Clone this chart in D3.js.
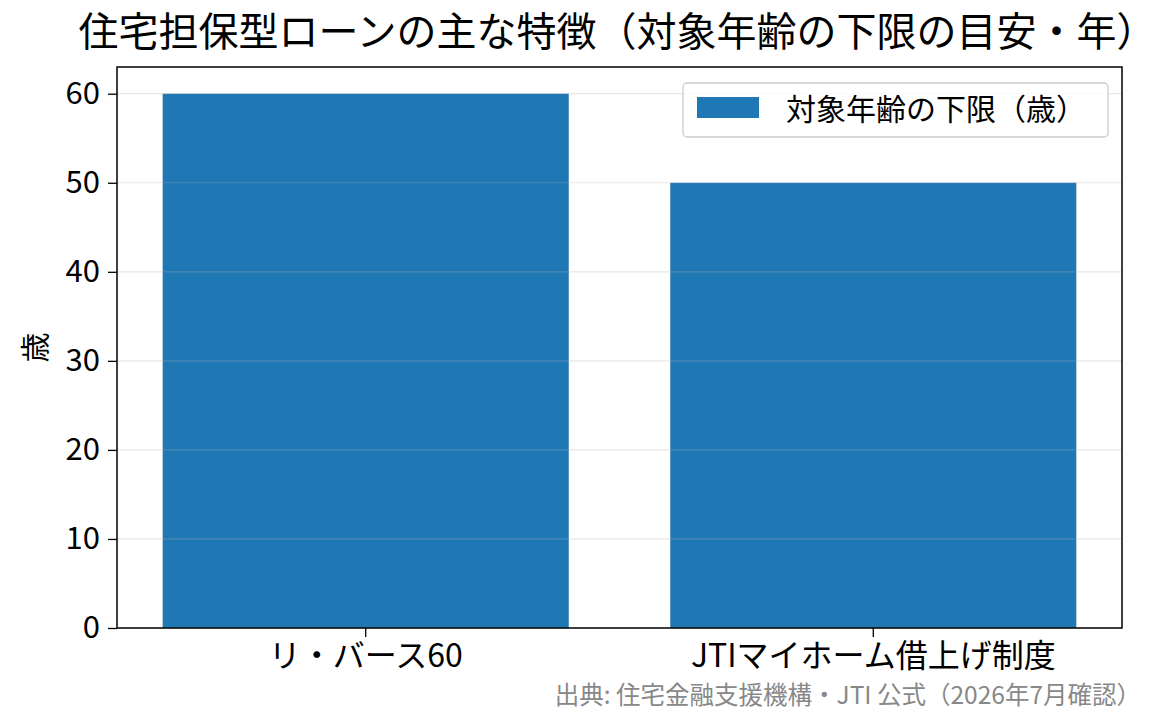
<!DOCTYPE html>
<html><head><meta charset="utf-8">
<script src="https://cdn.jsdelivr.net/npm/d3@7"></script>
<style>body{margin:0;background:#fff;} svg{display:block;font-family:"Noto Sans CJK JP","Noto Sans",sans-serif;}</style>
</head><body><div id="chart"></div>
<script>
const categories = ["リ・バース60", "JTIマイホーム借上げ制度"];
const values = [60, 50];
const yTicks = [0, 10, 20, 30, 40, 50, 60];
const seriesName = "対象年齢の下限（歳）";
const titleText = "住宅担保型ローンの主な特徴（対象年齢の下限の目安・年）";
const yLabel = "歳";
const sourceText = "出典: 住宅金融支援機構・JTI 公式（2026年7月確認）";

const W = 1175, H = 725;
const m = {left:117, right:1122, top:67, bottom:628};
const svg = d3.select("#chart").append("svg").attr("width", W).attr("height", H);

const x = d3.scaleBand().domain(categories).range([m.left, m.right]).paddingInner(0.2).paddingOuter(0.09);
const y = d3.scaleLinear().domain([0, 63]).range([m.bottom, m.top]);

svg.append("g").selectAll("rect").data(values).join("rect")
  .attr("x", (d,i)=>x(categories[i])).attr("width", x.bandwidth())
  .attr("y", d=>y(d)).attr("height", d=>y(0)-y(d)).attr("fill", "#1f77b4");

svg.append("g").selectAll("line").data(yTicks).join("line")
  .attr("x1", m.left).attr("x2", m.right).attr("y1", d=>y(d)).attr("y2", d=>y(d))
  .attr("stroke", "#b0b0b0").attr("stroke-opacity", 0.3).attr("stroke-width", 1.2);

const ya = svg.append("g").attr("transform", `translate(${m.left},0)`)
  .call(d3.axisLeft(y).tickValues(yTicks).tickSize(9).tickPadding(8));
ya.select(".domain").remove();
ya.selectAll("line").attr("stroke", "#000").attr("stroke-width", 1.3);
ya.selectAll("text").attr("font-size", 31).attr("fill", "#000").attr("font-family", "'Noto Sans CJK JP'");

const xa = svg.append("g").attr("transform", `translate(0,${m.bottom})`)
  .call(d3.axisBottom(x).tickSize(9).tickPadding(7));
xa.select(".domain").remove();
xa.selectAll("line").attr("stroke", "#000").attr("stroke-width", 1.3);
xa.selectAll("text").attr("font-size", 32).attr("fill", "#000").attr("font-family", "'Noto Sans CJK JP'");

svg.append("rect").attr("x", m.left).attr("y", m.top).attr("width", m.right-m.left).attr("height", m.bottom-m.top)
  .attr("fill", "none").attr("stroke", "#000").attr("stroke-width", 1.5);

svg.append("text").attr("x", (m.left+m.right)/2 - 2).attr("y", 46).attr("text-anchor", "middle")
  .attr("font-size", 40).attr("fill", "#000").text(titleText);

svg.append("text").attr("transform", `translate(46,${(m.top+m.bottom)/2}) rotate(-90)`).attr("text-anchor", "middle")
  .attr("font-size", 30).attr("fill", "#000").text(yLabel);

svg.append("text").attr("x", 1141).attr("y", 704).attr("text-anchor", "end")
  .attr("font-size", 24.5).attr("fill", "#888").text(sourceText);

const lg = svg.append("g");
lg.append("rect").attr("x", 683).attr("y", 83).attr("width", 425).attr("height", 54).attr("rx", 4)
  .attr("fill", "#fff").attr("fill-opacity", 0.8).attr("stroke", "#ccc").attr("stroke-width", 1.3);
lg.append("rect").attr("x", 697).attr("y", 97).attr("width", 62).attr("height", 21).attr("fill", "#1f77b4");
lg.append("text").attr("x", 786).attr("y", 120).attr("font-size", 30).attr("fill", "#000").text(seriesName);
</script></body></html>
